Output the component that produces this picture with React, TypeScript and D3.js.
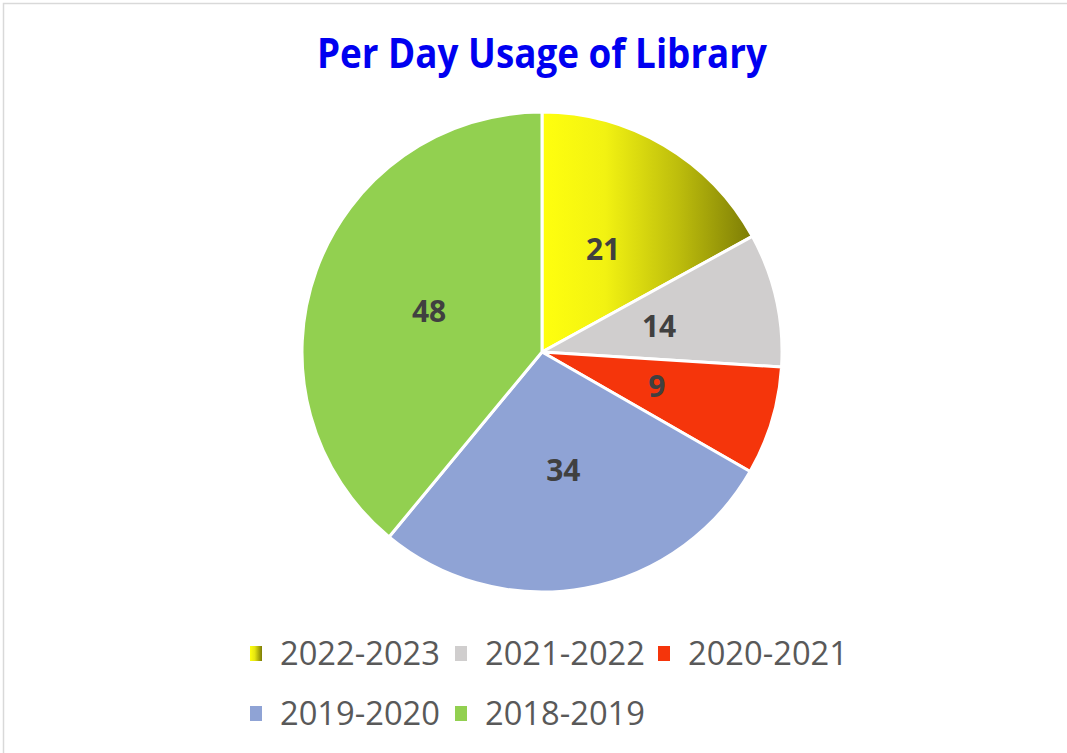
import React from "react";
import * as d3 from "d3";

const categories = ["2022-2023", "2021-2022", "2020-2021", "2019-2020", "2018-2019"];
// data labels as printed on the slices
const labelValues = [21, 14, 9, 34, 48];
// share of the pie (percent) each slice occupies
const sliceShares = [17.0, 9.0, 7.3, 27.7, 39.0];
const colors = ["url(#yellowGrad)", "#D0CECE", "#F5350B", "#8FA3D5", "#92D050"];
const legendColors = ["url(#legendGrad)", "#D0CECE", "#F5350B", "#8FA3D5", "#92D050"];
const title = "Per Day Usage of Library";

const W = 1067;
const H = 753;
const cx = 542;
const cy = 352;
const R = 240;

export default function App() {
  const pie = d3.pie<number>().sort(null).value((d) => d);
  const arcs = pie(sliceShares);
  const arcGen = d3.arc<d3.PieArcDatum<number>>().innerRadius(0).outerRadius(R);
  const gradEnd = R * Math.sin(arcs[0].endAngle);

  const legendRows = [
    [0, 1, 2],
    [3, 4],
  ];
  const legendX = [250, 455, 658];
  const legendY = [665, 725];

  return (
    <svg
      width={W}
      height={H}
      style={{ position: "absolute", left: 0, top: 0, background: "#fff" }}
    >
      <defs>
        <linearGradient id="yellowGrad" gradientUnits="userSpaceOnUse" x1={0} y1={0} x2={gradEnd} y2={0}>
          <stop offset="0" stopColor="#FFFF0E" />
          <stop offset="0.3" stopColor="#F2F212" />
          <stop offset="0.65" stopColor="#BDBD0C" />
          <stop offset="1" stopColor="#7C7C06" />
        </linearGradient>
        <linearGradient id="legendGrad" x1="0" y1="0" x2="1" y2="0">
          <stop offset="0" stopColor="#FFFF0E" />
          <stop offset="0.4" stopColor="#E6E610" />
          <stop offset="1" stopColor="#7C7C06" />
        </linearGradient>
      </defs>
      <rect x={3.5} y={3.5} width={W + 10} height={H + 10} fill="#fff" stroke="#D9D9D9" strokeWidth={1.5} />
      <text
        x={cx}
        y={68}
        textAnchor="middle"
        fontFamily="'Open Sans', sans-serif"
        fontWeight="bold"
        fontSize={41}
        fill="#0000F0"
        textLength={450}
        lengthAdjust="spacingAndGlyphs"
      >
        {title}
      </text>
      <g transform={`translate(${cx},${cy})`}>
        {arcs.map((a, i) => (
          <path key={i} d={arcGen(a) || ""} fill={colors[i]} stroke="#fff" strokeWidth={3} strokeLinejoin="round" />
        ))}
        {arcs.map((a, i) => {
          const [x, y] = arcGen.centroid(a);
          return (
            <text
              key={"l" + i}
              x={x}
              y={y}
              dy="0.36em"
              textAnchor="middle"
              fontFamily="'Open Sans', sans-serif"
              fontWeight="bold"
              fontSize={30}
              fill="#404040"
            >
              {labelValues[i]}
            </text>
          );
        })}
      </g>
      {legendRows.map((row, r) =>
        row.map((idx, k) => (
          <g key={idx} transform={`translate(${legendX[k]},${legendY[r]})`}>
            <rect x={0} y={-19} width={12} height={15} fill={legendColors[idx]} />
            <text
              x={30}
              y={0}
              fontFamily="'Open Sans', sans-serif"
              fontSize={33}
              fill="#595959"
              textLength={160}
              lengthAdjust="spacingAndGlyphs"
            >
              {categories[idx]}
            </text>
          </g>
        ))
      )}
    </svg>
  );
}
